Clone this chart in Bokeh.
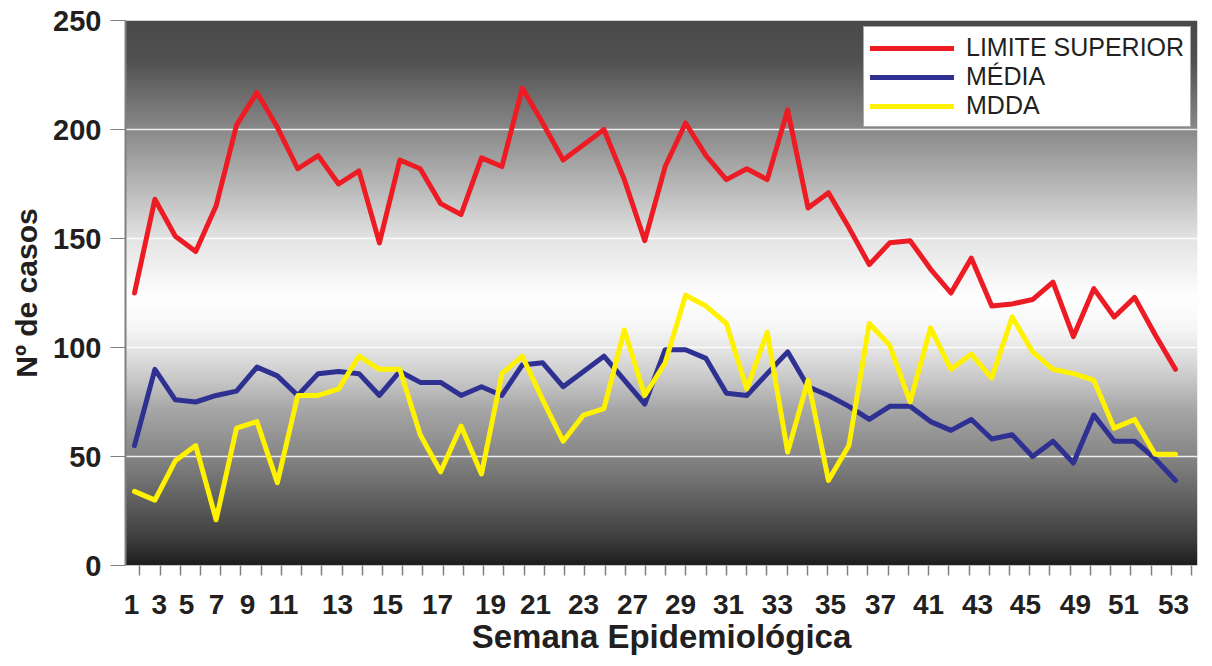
import numpy as np
from bokeh.plotting import figure
from bokeh.models import FixedTicker, Range1d, Legend, LegendItem
from bokeh.embed import file_html
from bokeh.resources import INLINE

# ---------------- data ----------------
weeks = list(range(1, 53))
limite_superior = [125, 168, 151, 144, 165, 202, 217, 201, 182, 188, 175, 181, 148, 186, 182, 166, 161, 187,
                   183, 219, 203, 186, 193, 200, 177, 149, 183, 203, 188, 177, 182, 177, 209, 164, 171, 155,
                   138, 148, 149, 136, 125, 141, 119, 120, 122, 130, 105, 127, 114, 123, 106, 90]
media = [55, 90, 76, 75, 78, 80, 91, 87, 78, 88, 89, 88, 78, 89, 84, 84, 78, 82,
         78, 92, 93, 82, 89, 96, 85, 74, 99, 99, 95, 79, 78, 88, 98, 82, 78, 73,
         67, 73, 73, 66, 62, 67, 58, 60, 50, 57, 47, 69, 57, 57, 49, 39]
mdda = [34, 30, 48, 55, 21, 63, 66, 38, 78, 78, 81, 96, 90, 90, 60, 43, 64, 42,
        88, 96, 76, 57, 69, 72, 108, 78, 93, 124, 119, 111, 81, 107, 52, 85, 39, 55,
        111, 101, 75, 109, 90, 97, 86, 114, 98, 90, 88, 85, 63, 67, 51, 51]
series_names = ["LIMITE SUPERIOR", "MÉDIA", "MDDA"]
x_tick_labels = ["1", "3", "5", "7", "9", "11", "13", "15", "17", "19", "21", "23",
                 "27", "29", "31", "33", "35", "37", "41", "43", "45", "49", "51", "53"]
y_ticks = [0, 50, 100, 150, 200, 250]

# ---------------- layout / style ----------------
x_label_pos = [0.85, 2.22, 3.55, 5.02, 6.54, 8.30, 10.95, 13.40, 15.85, 18.44, 20.65, 23.00,
               25.40, 27.75, 30.10, 32.50, 35.10, 37.55, 39.90, 42.30, 44.65, 47.10, 49.46, 51.91]
X0, X1 = 0.56, 53.08
Y0, Y1 = 0, 250
colors = ["#ed1c24", "#2e3192", "#fff200"]
FONT = "Liberation Sans"
TXT = "#231f20"

p = figure(width=1204, height=658, output_backend="svg", toolbar_location=None,
           x_range=Range1d(X0, X1), y_range=Range1d(Y0, Y1),
           min_border_left=125, min_border_right=7, min_border_top=20, min_border_bottom=93)
p.outline_line_color = None
p.border_fill_color = "white"
p.background_fill_color = "white"

# background vertical gradient (dark - white - dark)
stop_v = [0, 12, 30, 50, 72, 85, 100, 108, 123, 150, 168, 200, 232, 250]
stop_g = [30, 62, 97, 134, 168, 200, 231, 246, 255, 228, 195, 138, 81, 74]
rows = 545
vals = np.linspace(Y0, Y1, rows)
g = np.interp(vals, stop_v, stop_g).astype(np.uint8)
img = np.empty((rows, 2), dtype=np.uint32)
view = img.view(dtype=np.uint8).reshape((rows, 2, 4))
for c in range(3):
    view[:, :, c] = g[:, None]
view[:, :, 3] = 255
p.image_rgba(image=[img], x=X0, y=Y0, dw=X1 - X0, dh=Y1 - Y0, level="image")

# grid
p.xgrid.visible = False
p.ygrid.ticker = FixedTicker(ticks=y_ticks[1:-1])
p.ygrid.grid_line_color = "white"
p.ygrid.grid_line_width = 1.5
p.ygrid.grid_line_alpha = 0.85

# lines
renderers = []
for ys, col in zip([limite_superior, media, mdda], colors):
    r = p.line(weeks, ys, line_color=col, line_width=5, line_join="round", line_cap="round")
    renderers.append(r)

# y axis
ya = p.yaxis[0]
ya.ticker = FixedTicker(ticks=y_ticks)
ya.major_label_text_font = FONT
ya.major_label_text_font_style = "bold"
ya.major_label_text_font_size = "29px"
ya.major_label_text_color = TXT
ya.major_tick_out = 15
ya.major_tick_in = 0
ya.major_tick_line_color = "#808080"
ya.minor_tick_line_color = None
ya.axis_line_color = "#808080"
ya.axis_line_width = 2
ya.major_label_standoff = 9
ya.axis_label = "Nº de casos"
ya.axis_label_text_font = FONT
ya.axis_label_text_font_style = "bold"
ya.axis_label_text_font_size = "30px"
ya.axis_label_text_color = TXT
ya.axis_label_standoff = 7

# x axis
xa = p.xaxis[0]
minor = list(np.linspace(1.26, 52.79, 53))
xa.ticker = FixedTicker(ticks=x_label_pos, minor_ticks=minor)
xa.major_label_overrides = {pos: lab for pos, lab in zip(x_label_pos, x_tick_labels)}
xa.major_label_text_font = FONT
xa.major_label_text_font_style = "bold"
xa.major_label_text_font_size = "28px"
xa.major_label_text_color = TXT
xa.major_tick_out = 0
xa.major_tick_in = 0
xa.major_tick_line_color = None
xa.minor_tick_out = 10
xa.minor_tick_in = 0
xa.minor_tick_line_color = "#808080"
xa.minor_tick_line_width = 1.5
xa.axis_line_color = None
xa.major_label_standoff = 19
xa.axis_label = "Semana Epidemiológica"
xa.axis_label_text_font = FONT
xa.axis_label_text_font_style = "bold"
xa.axis_label_text_font_size = "33px"
xa.axis_label_text_color = TXT
xa.axis_label_standoff = 1

# legend
legend = Legend(items=[LegendItem(label=n, renderers=[r]) for n, r in zip(series_names, renderers)],
                location=(738, 438))
legend.label_text_font = FONT
legend.label_text_font_size = "25px"
legend.label_text_color = TXT
legend.glyph_width = 84
legend.glyph_height = 24
legend.label_height = 24
legend.label_standoff = 12
legend.spacing = 0
legend.padding = 6
legend.margin = 0
legend.border_line_color = "#555555"
legend.border_line_width = 1
legend.background_fill_color = "white"
legend.background_fill_alpha = 1
p.add_layout(legend)

open("out.html", "w").write(file_html(p, INLINE))
